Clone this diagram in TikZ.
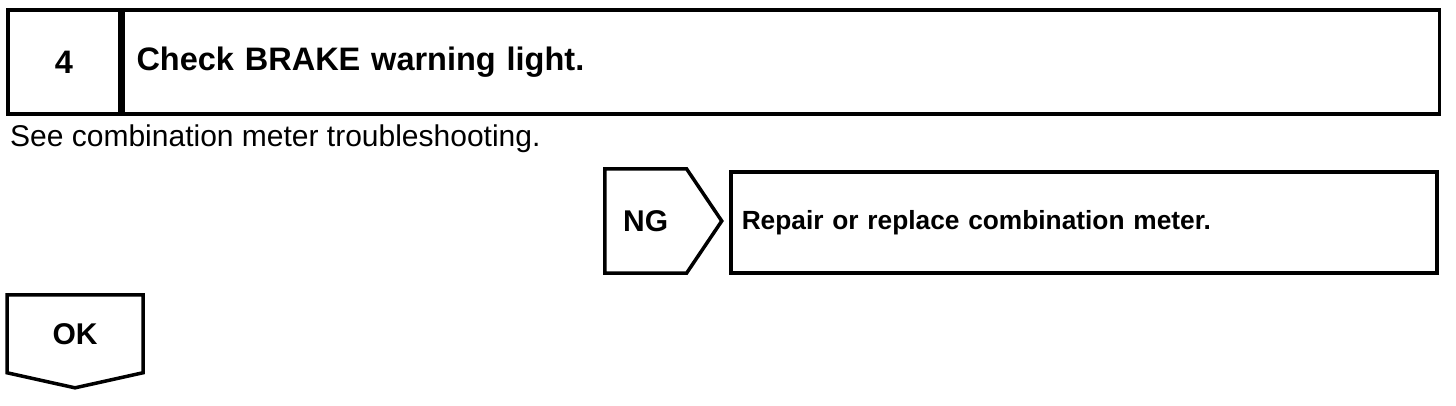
\documentclass[tikz,border=0pt]{standalone}
\usepackage{fontspec}
\setmainfont{Liberation Sans}
\usetikzlibrary{shapes.symbols}

\begin{document}
\begin{tikzpicture}[
    x=1pt, y=-1pt,
    cell/.style={draw, line width=3.5pt, inner sep=0pt, font=\bfseries\fontsize{32.5}{36}\selectfont},
    flag/.style={draw, signal, line width=3.5pt, inner sep=0pt, font=\bfseries\fontsize{30}{34}\selectfont},
    note/.style={font=\fontsize{30}{34}\selectfont}
]
\useasboundingbox (0,0) rectangle (1456,406);

\node[cell, minimum width=112, minimum height=104] (num) at (64,62) {4};
\node[cell, anchor=west, minimum width=1316, minimum height=104, text width=1290, inner xsep=13, align=left] (title) at (num.east) {Check BRAKE warning light.};
\node[note, anchor=base west, inner sep=0pt] (hint) at (10,147) {See combination meter troubleshooting.};

\node[flag, anchor=west, signal to=east, signal pointer angle=112, minimum width=117, minimum height=104] (ng) at (603,221) {NG};
\node[cell, anchor=west, minimum width=706, minimum height=101, text width=684, inner xsep=11, align=left, font=\bfseries\fontsize{26.3}{30}\selectfont] (fix) at (729,222.5) {Repair or replace combination meter.};

\node[flag, anchor=north, signal to=south, signal pointer angle=155, minimum width=136, minimum height=83] (ok) at (75,293) {OK};
\end{tikzpicture}
\end{document}
